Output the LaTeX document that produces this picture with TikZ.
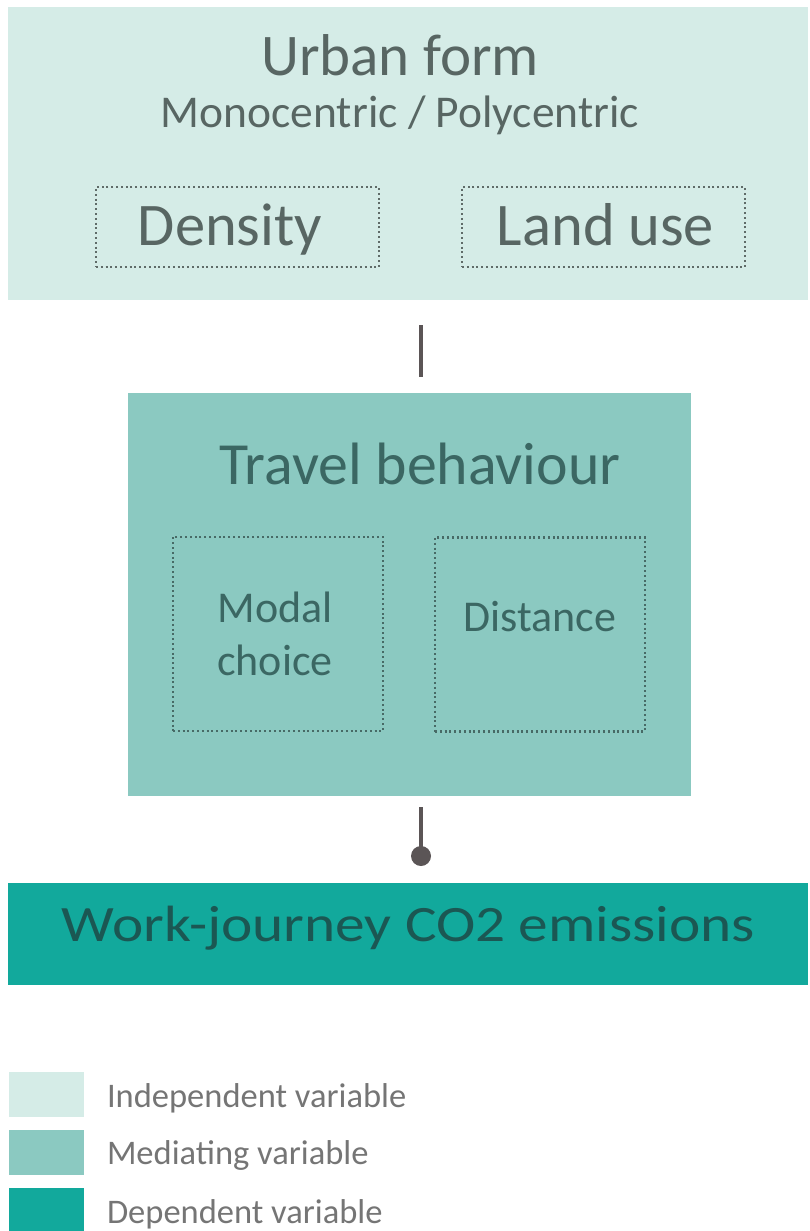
\documentclass[tikz,border=0pt]{standalone}
\usepackage{fontspec}
\setmainfont{Carlito}
\usepackage{graphicx}

\definecolor{indep}{HTML}{D5ECE7}
\definecolor{mediat}{HTML}{8BC9C1}
\definecolor{depend}{HTML}{12A99C}
\definecolor{toptext}{HTML}{586663}
\definecolor{midtext}{HTML}{3B6763}
\definecolor{bottext}{HTML}{1B5753}
\definecolor{legtext}{HTML}{757575}
\definecolor{linkc}{HTML}{5B5556}
\definecolor{dottop}{HTML}{5F6B68}
\definecolor{dotmid}{HTML}{476A66}

\newcommand\fsz[1]{\fontsize{#1}{#1}\selectfont}

\tikzset{
  panel/.style={rectangle, draw=none, inner sep=0pt, outer sep=0pt},
  dotbox/.style={rectangle, inner sep=0pt, outer sep=0pt, line width=2.3pt,
                 dash pattern=on 2pt off 2.8pt},
  txt/.style={anchor=base, inner sep=0pt, outer sep=0pt},
  link/.style={draw=linkc, line width=4pt},
}

\begin{document}
\begin{tikzpicture}[x=1pt,y=-1pt]
\useasboundingbox (0,0) rectangle (810,1231);

% Urban form panel
\node[panel, fill=indep, minimum width=800pt, minimum height=293pt] (urban) at (408,153.5) {};
\node[txt, text=toptext, font=\fsz{59}] (urbanT) at (400,75) {Urban form};
\node[txt, text=toptext, font=\fsz{45.5}] (urbanS) at (400,127) {Monocentric / Polycentric};
\node[dotbox, draw=dottop, minimum width=283pt, minimum height=80pt] (dens) at (237.5,227) {};
\node[dotbox, draw=dottop, minimum width=283pt, minimum height=80pt] (land) at (603.5,227) {};
\node[txt, text=toptext, font=\fsz{60.5}] (densT) at (230,245) {Density};
\node[txt, text=toptext, font=\fsz{60.5}] (landT) at (605.5,245) {Land use};

% Travel behaviour panel
\node[panel, fill=mediat, minimum width=563pt, minimum height=403pt] (travel) at (409.5,594.5) {};
\node[txt, text=midtext, font=\fsz{59.8}] (travelT) at (420,484) {Travel behaviour};
\node[dotbox, draw=dotmid, minimum width=210pt, minimum height=194pt] (modal) at (278,634) {};
\node[dotbox, draw=dotmid, minimum width=210pt, minimum height=194pt] (dist) at (540,634.5) {};
\node[txt, text=midtext, font=\fsz{44}] (modalA) at (275,622) {Modal};
\node[txt, text=midtext, font=\fsz{44}] (modalB) at (275,675) {choice};
\node[txt, text=midtext, font=\fsz{44}] (distT) at (540,631) {Distance};

% Emissions panel
\node[panel, fill=depend, minimum width=800pt, minimum height=102pt] (co2) at (408,934) {};
\node[txt, text=bottext] (co2T) at (408.5,941)
  {\resizebox{693pt}{\height}{\fsz{51}Work-journey CO2 emissions}};

% Connectors
\coordinate (l1a) at (421,325);
\coordinate (l1b) at (421,377);
\coordinate (l2a) at (421,807);
\coordinate (l2b) at (421,856);
\draw[link] (l1a) -- (l1b);
\draw[link] (l2a) -- (l2b);
\fill[linkc] (l2b) circle (10pt);

% Legend
\node[panel, fill=indep, minimum width=75pt, minimum height=45pt] (legA) at (46.5,1094.5) {};
\node[panel, fill=mediat, minimum width=75pt, minimum height=45pt] (legB) at (46.5,1152.5) {};
\node[panel, fill=depend, minimum width=75pt, minimum height=43pt] (legC) at (46.5,1209.5) {};
\node[txt, anchor=base west, text=legtext, font=\fsz{34.5}] (legAT) at (107,1107) {Independent variable};
\node[txt, anchor=base west, text=legtext, font=\fsz{34.5}] (legBT) at (107,1164) {Mediating variable};
\node[txt, anchor=base west, text=legtext, font=\fsz{34.5}] (legCT) at (107,1223) {Dependent variable};
\end{tikzpicture}
\end{document}
